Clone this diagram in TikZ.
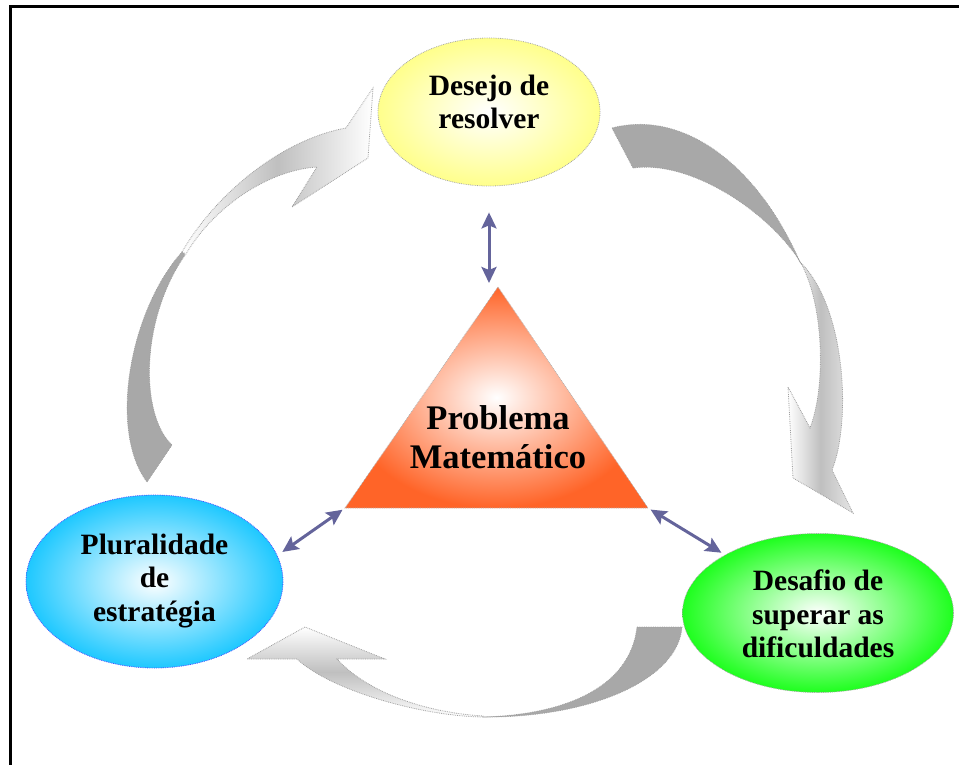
\documentclass[tikz,border=0pt]{standalone}
\usepackage{fontspec}
\setmainfont{Liberation Serif}
\usetikzlibrary{shapes.geometric,arrows.meta}
\definecolor{amarelo}{RGB}{255,255,140}
\definecolor{azul}{RGB}{30,200,255}
\definecolor{verde}{RGB}{30,255,30}
\definecolor{laranja}{RGB}{255,100,40}
\definecolor{roxo}{RGB}{100,100,155}
\definecolor{escuro}{RGB}{168,168,168}
\tikzset{
  bolha/.style={ellipse, inner sep=0pt, draw, densely dotted, line width=0.8pt, inner color=white},
  rotulo/.style={align=center, font=\bfseries\fontsize{29.5}{33.5}\selectfont},
  duplo/.style={roxo, line width=3pt, {Stealth[length=16pt,width=15pt,inset=3pt]}-{Stealth[length=16pt,width=15pt,inset=3pt]}},
  seta/.style={draw=gray!75, densely dotted, line width=0.8pt},
  verso/.style={seta, fill=escuro}
}
\begin{document}
\begin{tikzpicture}[x=1pt, y=-1pt]
    \useasboundingbox (0,0) rectangle (959,765);
    \draw [line width=3pt] (10,765) -- (10,6.5) -- (959,6.5);

    \draw [verso] (182,252) .. controls (130,310) and (108,430) .. (147,482)
        -- (172,445) .. controls (140,415) and (140,320) .. (185,255) -- cycle;
    \draw [seta, left color=white, right color=white, middle color=gray!50]
        (182,252) .. controls (215,195) and (280,140) .. (346,128)
        -- (373,88) -- (368,158) -- (292,207) -- (317,167)
        .. controls (270,170) and (215,205) .. (186,254) -- cycle;

    \draw [verso] (612,128) .. controls (680,110) and (755,160) .. (800,262)
        -- (797,257) .. controls (765,210) and (690,160) .. (633,168) -- cycle;
    \draw [seta, left color=white, right color=gray!20, middle color=gray!50]
        (800,262) .. controls (845,305) and (852,420) .. (832,470)
        -- (853,513) -- (793,478) -- (788,387) -- (810,428)
        .. controls (825,390) and (825,310) .. (802,265) -- cycle;

    \draw [verso] (637,627) -- (682,627) .. controls (678,680) and (590,718) .. (483,717)
        .. controls (560,715) and (630,690) .. (637,627) -- cycle;
    \draw [seta, top color=white, bottom color=white, middle color=gray!50]
        (483,717) .. controls (420,716) and (330,690) .. (297,659)
        -- (247,659) -- (305,627) -- (385,659) -- (337,659)
        .. controls (365,690) and (420,712) .. (483,716) -- cycle;

    \coordinate (topo) at (498,287);
    \coordinate (esq) at (345,508);
    \coordinate (dir) at (648,508);
    \draw [draw=gray!60, densely dotted, line width=0.8pt, inner color=white, outer color=laranja]
        (topo) -- (esq) -- (dir) -- cycle;
    \node (problema) [rotulo, font=\bfseries\fontsize{34.5}{39}\selectfont] at (498,437) {Problema\\Matem\'atico};

    \node (desejo) [bolha, draw=gray!70, outer color=amarelo, minimum width=222pt, minimum height=148pt] at (489,112) {};
    \node (desejotxt) [rotulo] at (489,102) {Desejo de\\resolver};

    \node (plural) [bolha, draw=blue!70, outer color=azul, minimum width=257pt, minimum height=173pt] at (154.5,581.5) {};
    \node (pluraltxt) [rotulo] at (154.5,581) {Pluralidade\\de\\estrat\'egia};

    \node (desafio) [bolha, draw=gray!70, outer color=verde, minimum width=271pt, minimum height=159pt] at (818,613) {};
    \node (desafiotxt) [rotulo] at (818,614) {Desafio de\\superar as\\dificuldades};

    \draw [duplo, shorten <=26pt, shorten >=4pt] (desejo.south) -- (desejo.south |- topo);
    \draw [duplo, shorten <=3pt, shorten >=6pt] (esq) -- (plural.12);
    \draw [duplo, shorten <=3pt, shorten >=4pt] (dir) -- (desafio.148);
\end{tikzpicture}
\end{document}
